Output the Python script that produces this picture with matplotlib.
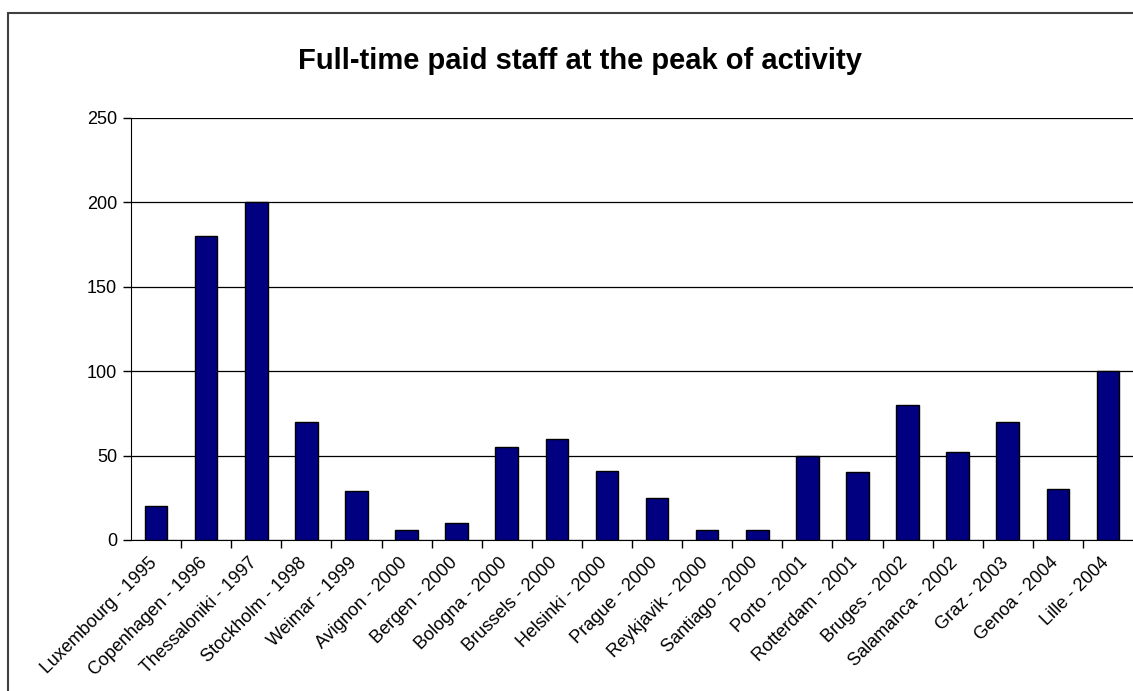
import matplotlib.pyplot as plt
import matplotlib.transforms as mtransforms
import numpy as np
from matplotlib.patches import Rectangle

plt.rcParams['font.family'] = ['Liberation Sans', 'DejaVu Sans']

cities = ["Luxembourg - 1995", "Copenhagen - 1996", "Thessaloniki - 1997", "Stockholm - 1998",
          "Weimar - 1999", "Avignon - 2000", "Bergen - 2000", "Bologna - 2000",
          "Brussels - 2000", "Helsinki - 2000", "Prague - 2000", "Reykjavik - 2000",
          "Santiago - 2000", "Porto - 2001", "Rotterdam - 2001", "Bruges - 2002",
          "Salamanca - 2002", "Graz - 2003", "Genoa - 2004", "Lille - 2004"]
staff = [20, 180, 200, 70, 29, 6, 10, 55, 60, 41, 25, 6, 6, 50, 40, 80, 52, 70, 30, 100]
yticks = [0, 50, 100, 150, 200, 250]

fig = plt.figure(figsize=(11.33, 6.91), dpi=100)
W, H = 1133, 691

# outer chart border
fig.patches.append(Rectangle((8 / W, -0.05), 1.2, 1 - 13 / H + 0.05, transform=fig.transFigure,
                             fill=False, edgecolor='#404040', linewidth=1.5))

ax = fig.add_axes([131 / W, 1 - 540 / H, (1133 - 131) / W, (540 - 118) / H])
x = np.arange(len(cities))
ax.bar(x, staff, width=0.45, color='#000080', edgecolor='black', linewidth=1, zorder=3)

ax.set_xlim(-0.5, len(cities) - 0.5)
ax.set_ylim(0, 250)
ax.set_yticks(yticks)
ax.set_yticklabels([str(v) for v in yticks], fontsize=13)
ax.grid(axis='y', color='black', linewidth=0.9, zorder=0)

ax.set_xticks(x)
ax.set_xticklabels(cities, rotation=45, ha='right', rotation_mode='anchor', fontsize=13)
ax.tick_params(axis='x', length=0, pad=8)
shift = mtransforms.ScaledTranslation(-8 / 100, -3 / 100, fig.dpi_scale_trans)
for lbl in ax.get_xticklabels():
    lbl.set_transform(lbl.get_transform() + shift)
ax.set_xticks(np.arange(0.5, len(cities) - 0.5, 1), minor=True)
ax.tick_params(axis='x', which='minor', length=6, width=1, direction='out')
ax.tick_params(axis='y', length=6, width=1, direction='out', pad=4)

for s in ['top', 'right']:
    ax.spines[s].set_visible(False)
ax.spines['left'].set_color('black')
ax.spines['bottom'].set_color('black')

fig.text(580 / W, 1 - 61 / H, "Full-time paid staff at the peak of activity",
         ha='center', va='center', fontsize=21, fontweight='bold')

fig.savefig('out.png', dpi=100)
